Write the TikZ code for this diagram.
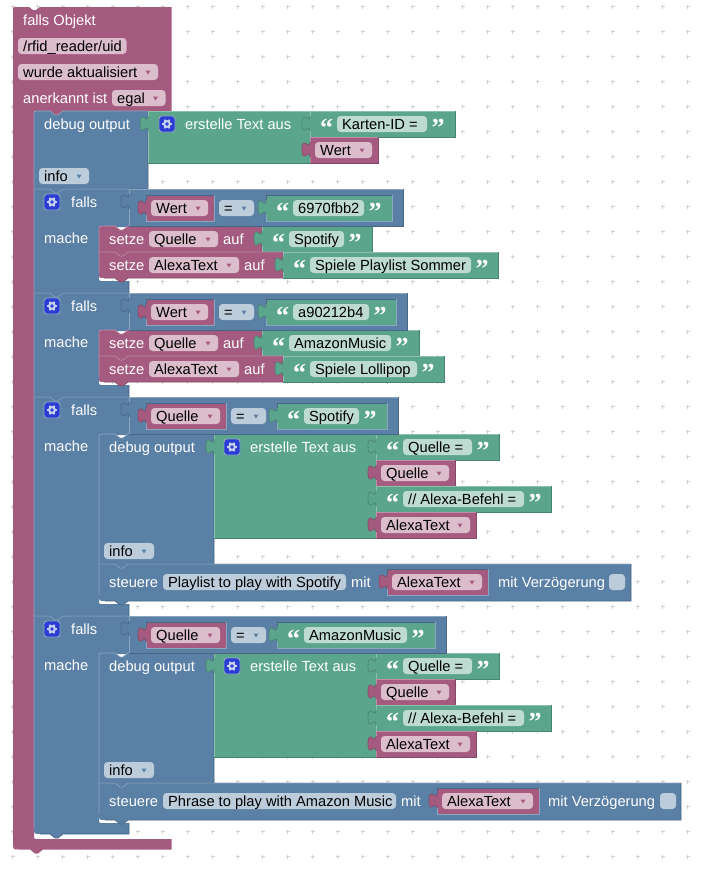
\documentclass[tikz,border=0pt]{standalone}
\usepackage{fontspec}
\setmainfont{Liberation Sans}
\newfontfamily\qfont{Liberation Serif}[BoldFont={Liberation Serif Bold}]
\definecolor{pinkc}{HTML}{A55B80}\definecolor{pinkf}{HTML}{DBBDCC}\definecolor{pinkl}{HTML}{C08CA6}\definecolor{pinkd}{HTML}{844966}
\definecolor{bluec}{HTML}{5B80A5}\definecolor{bluef}{HTML}{BDCCDB}\definecolor{bluel}{HTML}{8CA6C0}\definecolor{blued}{HTML}{496684}
\definecolor{greenc}{HTML}{5BA58C}\definecolor{greenf}{HTML}{BDDBD1}\definecolor{greenl}{HTML}{8CC0AF}\definecolor{greend}{HTML}{498470}
\definecolor{gearc}{HTML}{2A3BD6}\definecolor{gearl}{HTML}{C5CFEE}\definecolor{gridc}{HTML}{D2D2D2}
\newcounter{nd}
\tikzset{
 edge/.style={line width=0.65pt},
 lab/.style={anchor=base west,inner sep=0pt,text=white,font=\fontsize{14.67}{16}\selectfont},
 fldtext/.style={anchor=base west,inner sep=0pt,text=black,font=\fontsize{14.67}{16}\selectfont},
 quo/.style={anchor=base,inner sep=0pt,text=white,font=\qfont\bfseries\fontsize{26}{27}\selectfont},
 fldbox/.style={rounded corners=3.5pt},
}
% white label: x, baseline y, text
\newcommand\lbl[3]{\stepcounter{nd}\node[lab] (n\thend) at ({#1},{#2}) {#3};}
% field: x1 y1 x2 colour text arrow
\newcommand\fld[6]{\fill[#4f,fldbox] ({#1},{#2}) rectangle ({#3},{#2+16});
 \stepcounter{nd}\node[fldtext] (n\thend) at ({#1+5},{#2+13}) {#5};
 \ifnum#6=1 \fill[#4c] ({#3-12.5},{#2+6.5}) -- ({#3-7.5},{#2+6.5}) -- ({#3-10},{#2+10.5}) -- cycle;\fi}
% statement: x1 y1 x2 y2 colour rtop rbottom
\newcommand\stmt[7]{%
 \fill[#5c] ({#1},{#2+#6}) .. controls ({#1},{#2}) .. ({#1+#6},{#2}) -- ({#1+16},{#2}) -- ({#1+21},{#2+4}) -- ({#1+24},{#2+4}) -- ({#1+29},{#2}) -- ({#3},{#2}) -- ({#3},{#4}) -- ({#1+29},{#4}) -- ({#1+24},{#4+4}) -- ({#1+21},{#4+4}) -- ({#1+16},{#4}) -- ({#1+#7},{#4}) .. controls ({#1},{#4}) .. ({#1},{#4-#7}) -- cycle;
 \draw[edge,#5l] ({#1},{#4-#7}) -- ({#1},{#2+#6}) .. controls ({#1},{#2}) .. ({#1+#6},{#2}) -- ({#1+16},{#2}) -- ({#1+21},{#2+4}) -- ({#1+24},{#2+4}) -- ({#1+29},{#2}) -- ({#3},{#2});
 \draw[edge,#5d] ({#3},{#2}) -- ({#3},{#4}) -- ({#1+29},{#4}) -- ({#1+24},{#4+4}) -- ({#1+21},{#4+4}) -- ({#1+16},{#4}) -- ({#1+#7},{#4});}
% value block: x1 y1 x2 y2 colour inset
\newcommand\valblock[6]{%
 \fill[#5c] ({#1},{#2}) -- ({#3},{#2}) -- ({#3},{#4}) -- ({#1},{#4}) -- ({#1},{#2+20}) .. controls ({#1},{#2+10}) and ({#1-8},{#2+28}) .. ({#1-8},{#2+12.5}) .. controls ({#1-8},{#2-3}) and ({#1},{#2+15}) .. ({#1},{#2+5}) -- cycle;
 \ifnum#6=0
  \draw[edge,#5l] ({#1},{#2+5}) -- ({#1},{#2}) -- ({#3},{#2});
  \draw[edge,#5l] ({#1},{#2+20}) -- ({#1},{#4});
  \draw[edge,#5d] ({#3},{#2}) -- ({#3},{#4}) -- ({#1},{#4});
 \else
  \draw[edge,blued] ({#1},{#2+5}) -- ({#1},{#2}) -- ({#3},{#2});
  \draw[edge,bluel] ({#1},{#2+20}) -- ({#1},{#4}) -- ({#3},{#4}) -- ({#3},{#2});
 \fi
 \draw[edge,#5d] ({#1},{#2+20}) .. controls ({#1},{#2+10}) and ({#1-8},{#2+28}) .. ({#1-8},{#2+12.5}) .. controls ({#1-8},{#2-3}) and ({#1},{#2+15}) .. ({#1},{#2+5});}
% text block: x1 y x2 fx1 fx2 text inset
\newcommand\strblock[7]{\valblock{#1}{#2}{#3}{#2+26}{green}{#7}
 \fld{#4}{#2+5}{#5}{green}{#6}{0}
 \stepcounter{nd}\node[quo] (n\thend) at ({#4-10.5},{#2+25.5}) {“};
 \stepcounter{nd}\node[quo] (n\thend) at ({#5+11},{#2+25.5}) {”};}
% variable block: x1 y x2 text inset
\newcommand\varblock[5]{\valblock{#1}{#2}{#3}{#2+26}{pink}{#5}
 \fld{#1+5}{#2+5}{#3-6}{pink}{#4}{1}}
% gear: x y
\newcommand\gear[2]{\filldraw[fill=gearc,draw=bluel,line width=0.9pt,rounded corners=3pt] ({#1},{#2}) rectangle ({#1+16},{#2+16});
 \begin{scope}[shift={({#1+8},{#2+8})}]
 \foreach \a in {0,60,...,300}{\draw[gearl,line width=1.7pt] (0,0) -- (\a:5pt);}
 \fill[gearl] (0,0) circle (4pt);
 \fill[gearc] (0,0) circle (1.9pt);
 \end{scope}}
% if block: ytop ymid yinner ytail rbottom
\newcommand\ifblk[5]{%
 \fill[bluec] (34,{#1}) -- (50,{#1}) -- (55,{#1+4}) -- (58,{#1+4}) -- (63,{#1}) -- (129,{#1}) -- (129,{#2}) -- (99,{#2}) -- (99,{#3-4}) .. controls (99,{#3}) .. (103,{#3}) -- (129,{#3}) -- (129,{#4}) -- (63,{#4}) -- (58,{#4+4}) -- (55,{#4+4}) -- (50,{#4}) -- ({34+#5},{#4}) .. controls (34,{#4}) .. (34,{#4-#5}) -- cycle;
 \draw[edge,bluel] (34,{#4-#5}) -- (34,{#1}) -- (50,{#1}) -- (55,{#1+4}) -- (58,{#1+4}) -- (63,{#1}) -- (129,{#1});
 \draw[edge,blued] (129,{#3}) -- (129,{#4}) -- (63,{#4}) -- (58,{#4+4}) -- (55,{#4+4}) -- (50,{#4}) -- ({34+#5},{#4});
 \gear{44}{#1+5}
 \lbl{71}{#1+18}{falls}
 \lbl{44}{#2+16.5}{mache}}
% comparison row: ytop xend
\newcommand\rowblk[2]{\valblock{129}{#1}{#2}{#1+37.5}{blue}{0}}
% stack of four values in the text joiner at y
\newcommand\joinstack[1]{%
 \valblock{214}{#1}{376}{#1+104}{green}{0}
 \gear{224}{#1+5}
 \lbl{250}{#1+18}{erstelle Text aus}
 \strblock{376}{#1}{499}{403}{472}{Quelle =}{0}
 \varblock{376}{#1+26}{455}{Quelle}{0}
 \strblock{376}{#1+52}{551}{403}{524}{// Alexa-Befehl =}{0}
 \varblock{376}{#1+78}{476}{AlexaText}{0}}
\begin{document}
\begin{tikzpicture}[x=1pt,y=-1pt]
\useasboundingbox (0,0) rectangle (711,871);
\fill[white] (0,0) rectangle (711,871);
% grid
\foreach \i in {0,...,27}{\foreach \j in {0,...,34}{
 \draw[gridc,line width=0.8pt] ({12.5+25*\i-2},{6.5+25*\j}) -- ({12.5+25*\i+2},{6.5+25*\j}) ({12.5+25*\i},{6.5+25*\j-2}) -- ({12.5+25*\i},{6.5+25*\j+2});}}
% outer block
\fill[pinkc] (13,11) .. controls (13,7) .. (17,7) -- (29,7) -- (33,10) -- (36,10) -- (40,7) -- (171.5,7) -- (171.5,111) -- (63,111) -- (58,115) -- (55,115) -- (50,111) -- (34,111) -- (34,835) .. controls (34,839) .. (38,839) -- (171.5,839) -- (171.5,849.5) -- (43,849.5) -- (38,853.5) -- (35,853.5) -- (30,849.5) -- (19,849.5) .. controls (13,849.5) .. (13,843) -- cycle;
\lbl{23}{25}{falls Objekt}
\fld{18}{38}{126.5}{pink}{/rfid\_reader/uid}{0}
\fld{18}{64}{158}{pink}{wurde aktualisiert}{1}
\lbl{23}{103}{anerkannt ist}
\fld{112}{90}{165.5}{pink}{egal}{1}
% first debug
\stmt{34}{111}{148}{189}{blue}{5}{0}
\lbl{44}{129}{debug output}
\fld{39}{168}{89}{blue}{info}{1}
\valblock{148}{111}{310}{163}{green}{0}
\gear{159}{116}
\lbl{185}{129}{erstelle Text aus}
\strblock{310}{111}{455}{337}{427}{Karten-ID =}{0}
\varblock{310}{137}{378}{Wert}{0}
% falls 1
\ifblk{189}{227}{281}{293}{0}
\stmt{99}{226}{262}{252}{pink}{5}{0}
\lbl{109}{244}{setze}
\fld{149}{231}{218}{pink}{Quelle}{1}
\lbl{223}{244}{auf}
\strblock{262}{226}{372}{289}{344}{Spotify}{0}
\stmt{99}{252}{283}{278}{pink}{0}{5}
\lbl{109}{270}{setze}
\fld{149}{257}{239}{pink}{AlexaText}{1}
\lbl{244}{270}{auf}
\strblock{283}{252}{498}{310}{471}{Spiele Playlist Sommer}{0}
\rowblk{189}{403}
\varblock{146}{195}{214}{Wert}{1}
\fld{219}{200}{254}{blue}{=}{1}
\strblock{266}{195}{392}{293}{364}{6970fbb2}{1}
% falls 2
\ifblk{293}{331}{385}{397}{0}
\stmt{99}{330}{262}{356}{pink}{5}{0}
\lbl{109}{348}{setze}
\fld{149}{335}{218}{pink}{Quelle}{1}
\lbl{223}{348}{auf}
\strblock{262}{330}{419}{289}{391}{AmazonMusic}{0}
\stmt{99}{356}{283}{382}{pink}{0}{5}
\lbl{109}{374}{setze}
\fld{149}{361}{239}{pink}{AlexaText}{1}
\lbl{244}{374}{auf}
\strblock{283}{356}{444}{310}{417}{Spiele Lollipop}{0}
\rowblk{293}{407}
\varblock{146}{299}{214}{Wert}{1}
\fld{219}{304}{254}{blue}{=}{1}
\strblock{266}{299}{396}{293}{369}{a90212b4}{1}
% falls 3
\ifblk{397}{435}{604}{616}{0}
\stmt{99}{434}{214}{564}{blue}{5}{0}
\lbl{109}{452}{debug output}
\fld{104}{543}{154}{blue}{info}{1}
\joinstack{434}
\stmt{99}{564}{631}{601}{blue}{0}{6}
\lbl{109}{587}{steuere}
\fld{163}{574}{346}{blue}{Playlist to play with Spotify}{0}
\lbl{351}{587}{mit}
\varblock{387}{569}{488}{AlexaText}{1}
\lbl{498}{587}{mit Verzögerung}
\fld{609}{574}{625}{blue}{}{0}
\rowblk{397}{398}
\varblock{146}{403}{226}{Quelle}{1}
\fld{231}{408}{266}{blue}{=}{1}
\strblock{277}{403}{387}{304}{359}{Spotify}{1}
% falls 4
\ifblk{616}{654}{823}{834}{6}
\stmt{99}{653}{214}{783}{blue}{5}{0}
\lbl{109}{671}{debug output}
\fld{104}{762}{154}{blue}{info}{1}
\joinstack{653}
\stmt{99}{783}{681}{820}{blue}{0}{6}
\lbl{109}{806}{steuere}
\fld{163}{793}{396}{blue}{Phrase to play with Amazon Music}{0}
\lbl{401}{806}{mit}
\varblock{437}{788}{539}{AlexaText}{1}
\lbl{548}{806}{mit Verzögerung}
\fld{660}{793}{676}{blue}{}{0}
\rowblk{616}{446}
\varblock{146}{622}{226}{Quelle}{1}
\fld{231}{627}{266}{blue}{=}{1}
\strblock{277}{622}{435}{304}{407}{AmazonMusic}{1}
\end{tikzpicture}
\end{document}
